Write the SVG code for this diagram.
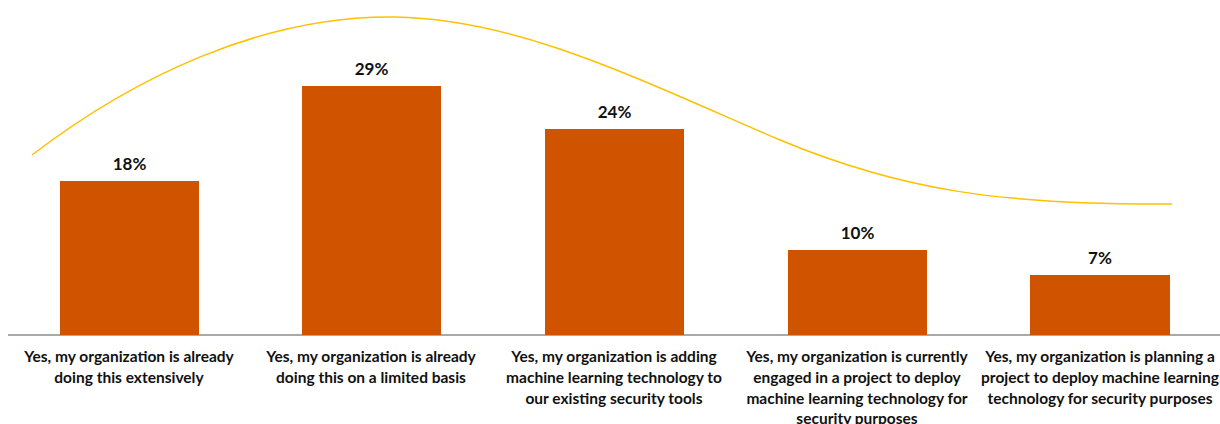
<svg xmlns="http://www.w3.org/2000/svg" width="1220" height="424" viewBox="0 0 1220 424">
<style>
.bar{fill:#D05400}
.val{font-family:Lato,"Liberation Sans",sans-serif;font-weight:bold;font-size:17px;fill:#111;text-anchor:middle}
.lab{font-family:Lato,"Liberation Sans",sans-serif;font-weight:bold;font-size:15.5px;fill:#111;text-anchor:middle}
</style>
<rect width="1220" height="424" fill="#fff"/>
<g id="axis"><line x1="8" y1="335" x2="1220" y2="335" stroke="#8c8c8c" stroke-width="1.5"/></g>
<g id="bar1"><rect class="bar" x="60" y="181" width="139" height="154"/><text class="val" x="129.5" y="170">18%</text>
<text class="lab" x="129" y="362">Yes, my organization is already</text><text class="lab" x="129" y="383">doing this extensively</text></g>
<g id="bar2"><rect class="bar" x="302" y="86" width="139" height="249"/><text class="val" x="371.5" y="75">29%</text>
<text class="lab" x="371" y="362">Yes, my organization is already</text><text class="lab" x="371" y="383">doing this on a limited basis</text></g>
<g id="bar3"><rect class="bar" x="545" y="129" width="139" height="206"/><text class="val" x="614.5" y="118">24%</text>
<text class="lab" x="614" y="362">Yes, my organization is adding</text><text class="lab" x="614" y="383">machine learning technology to</text><text class="lab" x="614" y="404">our existing security tools</text></g>
<g id="bar4"><rect class="bar" x="788" y="250" width="139" height="85"/><text class="val" x="857.5" y="239">10%</text>
<text class="lab" x="857" y="362">Yes, my organization is currently</text><text class="lab" x="857" y="383">engaged in a project to deploy</text><text class="lab" x="857" y="404">machine learning technology for</text><text class="lab" x="857" y="424">security purposes</text></g>
<g id="bar5"><rect class="bar" x="1030" y="275" width="140" height="60"/><text class="val" x="1100" y="264">7%</text>
<text class="lab" x="1100" y="362">Yes, my organization is planning a</text><text class="lab" x="1100" y="383">project to deploy machine learning</text><text class="lab" x="1100" y="404">technology for security purposes</text></g>
<g id="connectors"><path d="M32,155 C130,80 260,15 395,17 C520,19 640,80 780,140 C900,190 1000,205 1172,204" fill="none" stroke="#FFC000" stroke-width="1.5"/></g>
</svg>
